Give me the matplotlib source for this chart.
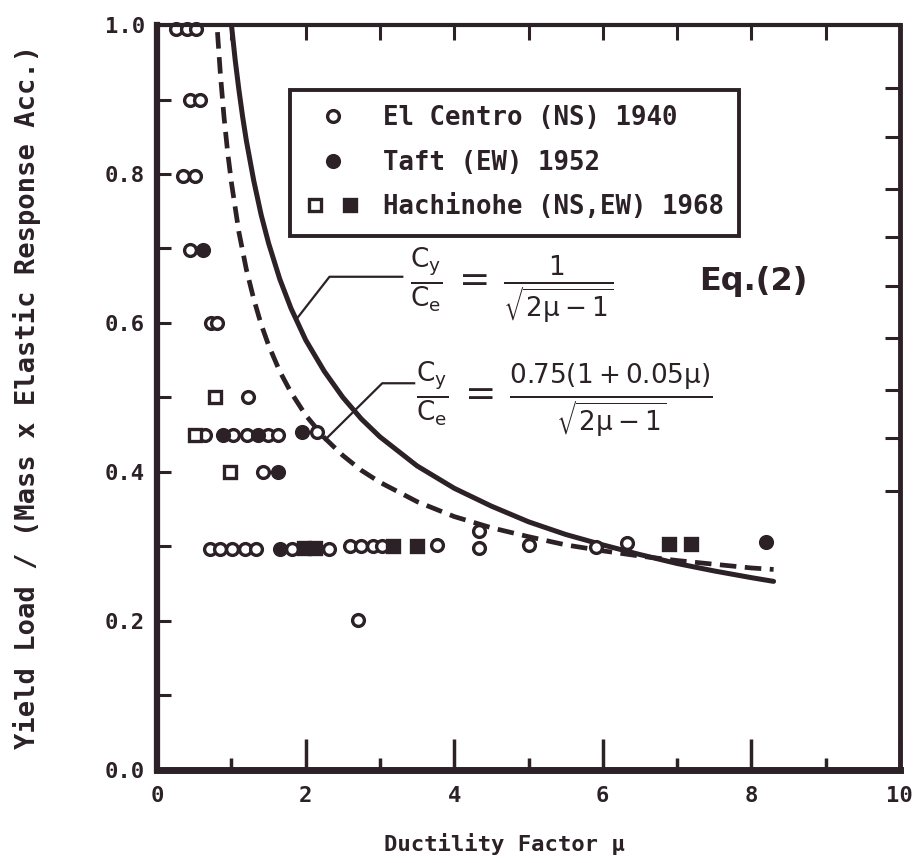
import matplotlib
matplotlib.use('Agg')
import matplotlib.pyplot as plt
from matplotlib.lines import Line2D
from matplotlib.legend_handler import HandlerTuple

plt.rcParams['mathtext.fontset'] = 'dejavusans'
plt.rcParams['mathtext.default'] = 'regular'
INK = '#2b2127'
MONO = 'DejaVu Sans Mono'

# theoretical curves
solid_mu = [1.0, 1.05, 1.1, 1.15, 1.2, 1.3, 1.4, 1.5, 1.65, 1.8, 2.0, 2.25, 2.5,
            2.75, 3.0, 3.5, 4.0, 4.5, 5.0, 5.5, 6.0, 6.5, 7.0, 7.5, 8.0, 8.3]
solid_cy = [1.000, 0.953, 0.913, 0.877, 0.845, 0.791, 0.745, 0.707, 0.659, 0.620,
            0.577, 0.535, 0.500, 0.471, 0.447, 0.408, 0.378, 0.354, 0.333, 0.316,
            0.302, 0.289, 0.277, 0.267, 0.258, 0.253]
dash_mu = [0.79, 0.8, 0.85, 0.9, 0.95, 1.0, 1.1, 1.2, 1.3, 1.4, 1.5, 1.65, 1.8, 2.0,
           2.25, 2.5, 2.75, 3.0, 3.5, 4.0, 4.5, 5.0, 5.5, 6.0, 6.5, 7.0, 7.5, 8.0, 8.3]
dash_cy = [1.024, 1.007, 0.935, 0.876, 0.828, 0.788, 0.722, 0.672, 0.632, 0.598,
           0.570, 0.535, 0.507, 0.476, 0.446, 0.422, 0.402, 0.386, 0.360, 0.340,
           0.325, 0.313, 0.302, 0.294, 0.287, 0.281, 0.276, 0.271, 0.269]

# El Centro (NS) 1940 - open circles
elc_mu = [0.25, 0.40, 0.52, 0.44, 0.58, 0.35, 0.51, 0.44, 0.72, 0.80, 1.22,
          0.64, 1.02, 1.21, 1.49, 1.62, 2.15, 1.42,
          0.71, 0.85, 1.01, 1.18, 1.33, 1.81, 2.32, 2.59, 2.75, 2.90, 3.03, 3.77,
          2.71, 4.33, 4.33, 5.00, 5.91, 6.32]
elc_cy = [0.995, 0.995, 0.995, 0.90, 0.90, 0.797, 0.797, 0.698, 0.60, 0.60, 0.50,
          0.45, 0.45, 0.45, 0.45, 0.45, 0.454, 0.40,
          0.297, 0.297, 0.297, 0.297, 0.297, 0.297, 0.297, 0.30, 0.30, 0.30, 0.30, 0.302,
          0.201, 0.32, 0.298, 0.302, 0.299, 0.305]
# Taft (EW) 1952 - filled circles
taft_mu = [0.62, 0.89, 1.36, 1.95, 1.62, 1.65, 8.20]
taft_cy = [0.698, 0.45, 0.45, 0.454, 0.40, 0.297, 0.306]
# Hachinohe (NS,EW) 1968 - open / filled squares
hns_mu = [0.78, 0.51, 0.98]
hns_cy = [0.50, 0.45, 0.40]
hew_mu = [1.98, 2.12, 3.17, 3.50, 6.89, 7.19]
hew_cy = [0.298, 0.298, 0.30, 0.30, 0.303, 0.303]

x_ticks = [0, 2, 4, 6, 8, 10]
y_ticks = [0.0, 0.2, 0.4, 0.6, 0.8, 1.0]

fig = plt.figure(figsize=(9.14, 8.63), dpi=100)
ax = fig.add_axes([0.172, 0.108, 0.8125, 0.863])

ax.plot(solid_mu, solid_cy, color=INK, lw=3.6, solid_capstyle='round')
ax.plot(dash_mu, dash_cy, color=INK, lw=3.4, dashes=(3.5, 1.8))

mk = dict(ms=8.5, mew=2.4, ls='none', color=INK, clip_on=False)
ax.plot(elc_mu, elc_cy, marker='o', mfc='white', **mk)
ax.plot(taft_mu, taft_cy, marker='o', mfc=INK, **mk)
ax.plot(hns_mu, hns_cy, marker='s', mfc='white', **mk)
ax.plot(hew_mu, hew_cy, marker='s', mfc=INK, **mk)

# leader lines to the equations
ax.plot([1.89, 2.32, 3.30], [0.607, 0.662, 0.662], color=INK, lw=1.6)
ax.plot([2.26, 3.03, 3.46], [0.443, 0.519, 0.519], color=INK, lw=1.6)

ax.text(3.40, 0.650, r'$\frac{C_y}{C_e}\,=\,\frac{1}{\sqrt{2\mu-1}}$',
        fontsize=27, color=INK, va='center', ha='left')
ax.text(7.30, 0.655, 'Eq.(2)', fontsize=23, color=INK, fontweight='bold',
        va='center', ha='left')
ax.text(3.48, 0.497, r'$\frac{C_y}{C_e}\,=\,\frac{0.75(1+0.05\mu)}{\sqrt{2\mu-1}}$',
        fontsize=27, color=INK, va='center', ha='left')

# legend
h1 = Line2D([], [], marker='o', mfc='white', **mk)
h2 = Line2D([], [], marker='o', mfc=INK, **mk)
h3a = Line2D([], [], marker='s', mfc='white', **mk)
h3b = Line2D([], [], marker='s', mfc=INK, **mk)
leg = ax.legend([h1, h2, (h3a, h3b)],
                ['El Centro (NS) 1940', 'Taft (EW) 1952', 'Hachinohe (NS,EW) 1968'],
                handler_map={tuple: HandlerTuple(ndivide=None, pad=0.6)},
                loc='upper left', bbox_to_anchor=(0.179, 0.913), borderaxespad=0,
                prop={'family': MONO, 'weight': 'bold', 'size': 18.5},
                labelcolor=INK, frameon=True, fancybox=False, edgecolor=INK,
                framealpha=1, handlelength=2.1, handletextpad=0.9,
                labelspacing=0.72, borderpad=0.6)
leg.get_frame().set_linewidth(2.8)

ax.set_xlim(0, 10)
ax.set_ylim(0, 1.0)
ax.set_xticks(x_ticks)
ax.set_xticklabels([str(v) for v in x_ticks])
ax.set_xticks([1, 3, 5, 7, 9], minor=True)
ax.set_yticks(y_ticks)
ax.set_yticklabels(['%.1f' % v for v in y_ticks])
ax.set_yticks([0.1, 0.3, 0.5, 0.7, 0.9], minor=True)

ax.tick_params(axis='x', which='major', direction='in', length=22, width=2.5,
               color=INK, pad=12)
ax.tick_params(axis='x', which='minor', direction='in', length=9, width=2.5, color=INK)
ax.tick_params(axis='y', which='both', direction='in', length=10, width=2.2,
               color=INK, pad=9)
for lab in ax.get_xticklabels() + ax.get_yticklabels():
    lab.set_family(MONO)
    lab.set_fontweight('bold')
    lab.set_fontsize(16)
    lab.set_color(INK)

top = ax.secondary_xaxis('top')
top.set_xticks([1, 2, 3, 4, 5, 6, 7, 8, 9])
top.tick_params(direction='in', length=11, width=2.2, color=INK, labeltop=False)
right = ax.secondary_yaxis('right')
right.set_yticks([0.375, 0.445, 0.51, 0.58, 0.65, 0.715, 0.78, 0.85, 0.915])
right.tick_params(direction='in', length=11, width=2.2, color=INK, labelright=False)
for sx in (top, right):
    for s in sx.spines.values():
        s.set_visible(False)

ax.spines['left'].set_linewidth(4.5)
ax.spines['bottom'].set_linewidth(5)
ax.spines['right'].set_linewidth(3.5)
ax.spines['top'].set_linewidth(3.0)
for s in ax.spines.values():
    s.set_color(INK)

ax.set_xlabel('Ductility Factor \u03bc', family=MONO, fontweight='bold',
              fontsize=16, color=INK)
ax.xaxis.set_label_coords(0.467, -0.085)
ax.set_ylabel('Yield Load / (Mass x Elastic Response Acc.)', family=MONO,
              fontweight='bold', fontsize=19.5, color=INK, labelpad=46)

fig.savefig('out.png', dpi=100)
